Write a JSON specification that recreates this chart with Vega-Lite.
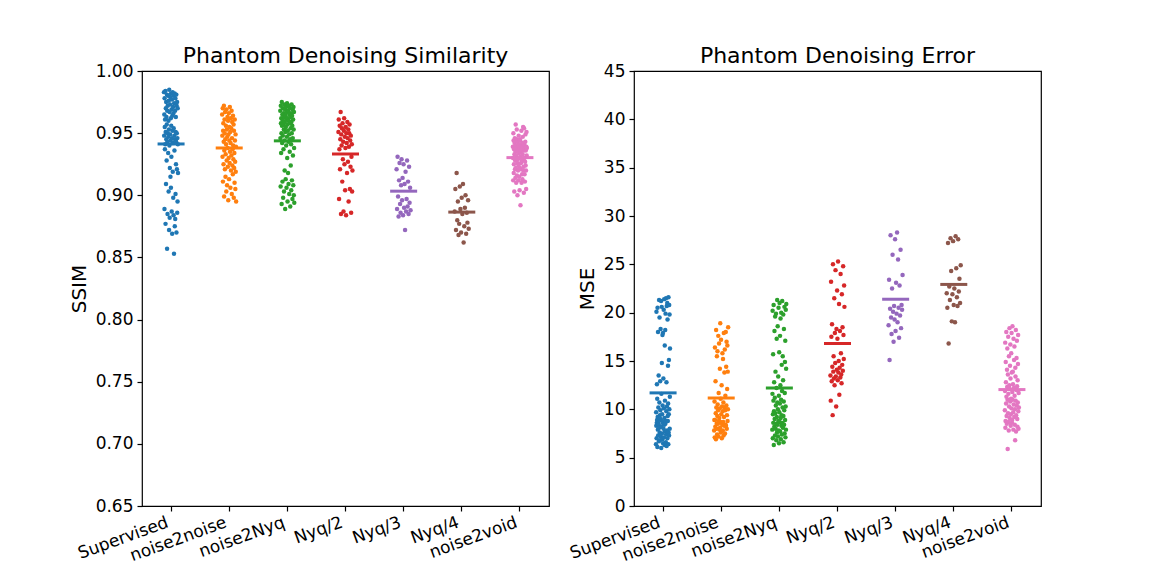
{
"$schema":"https://vega.github.io/schema/vega-lite/v6.json",
"background":"white",
"padding":{"left":68,"top":44,"right":0,"bottom":0},
"config":{"font":"DejaVu Sans","view":{"stroke":"black","strokeWidth":1.2},
"axis":{"grid":false,"domain":false,"tickColor":"black","tickSize":5,"tickWidth":1.2,"labelColor":"black","labelFontSize":17,"titleFontSize":20,"titleFontWeight":"normal","titleColor":"black","labelPadding":4},
"title":{"fontSize":22,"fontWeight":"normal","color":"black"}},
"data":{"values":[
{"m":"Supervised","s":0.983,"e":6.4},{"m":"Supervised","s":0.948,"e":9.7},{"m":"Supervised","s":0.965,"e":8.3},{"m":"Supervised","s":0.889,"e":20.1},{"m":"Supervised","s":0.978,"e":7.0},{"m":"Supervised","s":0.955,"e":8.6},{"m":"Supervised","s":0.937,"e":12.6},{"m":"Supervised","s":0.961,"e":8.9},{"m":"Supervised","s":0.941,"e":11.1},{"m":"Supervised","s":0.984,"e":6.1},
{"m":"Supervised","s":0.877,"e":20.5},{"m":"Supervised","s":0.951,"e":9.2},{"m":"Supervised","s":0.970,"e":7.9},{"m":"Supervised","s":0.909,"e":18.0},{"m":"Supervised","s":0.975,"e":7.3},{"m":"Supervised","s":0.945,"e":10.2},{"m":"Supervised","s":0.963,"e":8.6},{"m":"Supervised","s":0.928,"e":13.5},{"m":"Supervised","s":0.957,"e":8.4},{"m":"Supervised","s":0.981,"e":6.7},
{"m":"Supervised","s":0.857,"e":21.3},{"m":"Supervised","s":0.968,"e":8.1},{"m":"Supervised","s":0.943,"e":10.7},{"m":"Supervised","s":0.885,"e":19.5},{"m":"Supervised","s":0.972,"e":7.6},{"m":"Supervised","s":0.950,"e":9.4},{"m":"Supervised","s":0.980,"e":6.8},{"m":"Supervised","s":0.934,"e":12.9},{"m":"Supervised","s":0.947,"e":9.9},{"m":"Supervised","s":0.960,"e":9.0},
{"m":"Supervised","s":0.903,"e":18.3},{"m":"Supervised","s":0.976,"e":7.2},{"m":"Supervised","s":0.953,"e":8.9},{"m":"Supervised","s":0.872,"e":21.2},{"m":"Supervised","s":0.985,"e":6.0},{"m":"Supervised","s":0.940,"e":11.6},{"m":"Supervised","s":0.967,"e":8.2},{"m":"Supervised","s":0.882,"e":20.6},{"m":"Supervised","s":0.922,"e":14.8},{"m":"Supervised","s":0.973,"e":7.5},
{"m":"Supervised","s":0.949,"e":9.5},{"m":"Supervised","s":0.979,"e":6.9},{"m":"Supervised","s":0.915,"e":17.7},{"m":"Supervised","s":0.944,"e":10.4},{"m":"Supervised","s":0.962,"e":8.7},{"m":"Supervised","s":0.906,"e":17.9},{"m":"Supervised","s":0.982,"e":6.5},{"m":"Supervised","s":0.956,"e":8.5},{"m":"Supervised","s":0.931,"e":13.2},{"m":"Supervised","s":0.969,"e":8.0},
{"m":"Supervised","s":0.887,"e":20.3},{"m":"Supervised","s":0.946,"e":10.1},{"m":"Supervised","s":0.977,"e":7.1},{"m":"Supervised","s":0.869,"e":21.4},{"m":"Supervised","s":0.964,"e":8.4},{"m":"Supervised","s":0.952,"e":9.1},{"m":"Supervised","s":0.983,"e":6.3},{"m":"Supervised","s":0.919,"e":16.6},{"m":"Supervised","s":0.942,"e":10.9},{"m":"Supervised","s":0.971,"e":7.7},
{"m":"Supervised","s":0.898,"e":18.2},{"m":"Supervised","s":0.966,"e":8.5},{"m":"Supervised","s":0.884,"e":19.9},{"m":"Supervised","s":0.954,"e":8.8},{"m":"Supervised","s":0.980,"e":6.6},{"m":"Supervised","s":0.853,"e":21.5},{"m":"Supervised","s":0.974,"e":7.4},{"m":"Supervised","s":0.948,"e":9.8},{"m":"Supervised","s":0.936,"e":12.8},{"m":"Supervised","s":0.982,"e":6.2},
{"m":"Supervised","s":0.875,"e":20.7},{"m":"Supervised","s":0.945,"e":10.3},{"m":"Supervised","s":0.968,"e":7.8},{"m":"Supervised","s":0.881,"e":21.0},{"m":"Supervised","s":0.978,"e":7.0},{"m":"Supervised","s":0.901,"e":19.3},{"m":"Supervised","s":0.951,"e":9.3},{"m":"Supervised","s":0.963,"e":8.8},{"m":"Supervised","s":0.925,"e":14.5},{"m":"Supervised","s":0.943,"e":10.6},
{"m":"Supervised","s":0.981,"e":6.4},{"m":"Supervised","s":0.870,"e":21.6},{"m":"Supervised","s":0.972,"e":7.6},{"m":"Supervised","s":0.950,"e":9.5},{"m":"Supervised","s":0.921,"e":15.1},{"m":"Supervised","s":0.975,"e":7.3},{"m":"Supervised","s":0.886,"e":20.8},{"m":"Supervised","s":0.946,"e":10.0},{"m":"Supervised","s":0.895,"e":19.8},{"m":"Supervised","s":0.970,"e":8.0},
{"m":"Supervised","s":0.941,"e":11.3},{"m":"Supervised","s":0.918,"e":16.3},
{"m":"noise2noise","s":0.965,"e":7.8},{"m":"noise2noise","s":0.948,"e":8.9},{"m":"noise2noise","s":0.931,"e":10.8},{"m":"noise2noise","s":0.970,"e":7.1},{"m":"noise2noise","s":0.911,"e":16.4},{"m":"noise2noise","s":0.952,"e":8.9},{"m":"noise2noise","s":0.958,"e":8.2},{"m":"noise2noise","s":0.925,"e":12.9},{"m":"noise2noise","s":0.943,"e":9.6},{"m":"noise2noise","s":0.972,"e":6.9},
{"m":"noise2noise","s":0.899,"e":18.2},{"m":"noise2noise","s":0.936,"e":10.2},{"m":"noise2noise","s":0.961,"e":8.0},{"m":"noise2noise","s":0.950,"e":8.5},{"m":"noise2noise","s":0.921,"e":15.5},{"m":"noise2noise","s":0.967,"e":7.4},{"m":"noise2noise","s":0.945,"e":9.3},{"m":"noise2noise","s":0.915,"e":16.0},{"m":"noise2noise","s":0.933,"e":10.5},{"m":"noise2noise","s":0.956,"e":8.5},
{"m":"noise2noise","s":0.941,"e":9.9},{"m":"noise2noise","s":0.903,"e":17.6},{"m":"noise2noise","s":0.969,"e":7.2},{"m":"noise2noise","s":0.928,"e":11.7},{"m":"noise2noise","s":0.953,"e":8.8},{"m":"noise2noise","s":0.908,"e":16.8},{"m":"noise2noise","s":0.947,"e":9.1},{"m":"noise2noise","s":0.963,"e":7.9},{"m":"noise2noise","s":0.938,"e":10.1},{"m":"noise2noise","s":0.923,"e":14.2},
{"m":"noise2noise","s":0.960,"e":8.1},{"m":"noise2noise","s":0.896,"e":18.9},{"m":"noise2noise","s":0.949,"e":8.7},{"m":"noise2noise","s":0.930,"e":11.1},{"m":"noise2noise","s":0.966,"e":7.6},{"m":"noise2noise","s":0.913,"e":17.2},{"m":"noise2noise","s":0.944,"e":9.5},{"m":"noise2noise","s":0.955,"e":8.6},{"m":"noise2noise","s":0.926,"e":12.5},{"m":"noise2noise","s":0.971,"e":7.0},
{"m":"noise2noise","s":0.935,"e":10.3},{"m":"noise2noise","s":0.951,"e":8.4},{"m":"noise2noise","s":0.906,"e":15.8},{"m":"noise2noise","s":0.942,"e":9.8},{"m":"noise2noise","s":0.962,"e":7.8},{"m":"noise2noise","s":0.920,"e":15.2},{"m":"noise2noise","s":0.954,"e":8.7},{"m":"noise2noise","s":0.932,"e":10.7},{"m":"noise2noise","s":0.968,"e":7.3},{"m":"noise2noise","s":0.901,"e":17.9},
{"m":"noise2noise","s":0.946,"e":9.2},{"m":"noise2noise","s":0.959,"e":8.3},{"m":"noise2noise","s":0.924,"e":13.8},{"m":"noise2noise","s":0.937,"e":10.2},{"m":"noise2noise","s":0.917,"e":16.2},{"m":"noise2noise","s":0.964,"e":7.5},{"m":"noise2noise","s":0.940,"e":9.9},{"m":"noise2noise","s":0.929,"e":11.4},{"m":"noise2noise","s":0.957,"e":8.4},{"m":"noise2noise","s":0.898,"e":18.0},
{"m":"noise2noise","s":0.952,"e":8.3},{"m":"noise2noise","s":0.922,"e":14.4},{"m":"noise2noise","s":0.934,"e":10.4},{"m":"noise2noise","s":0.910,"e":17.0},{"m":"noise2noise","s":0.961,"e":8.0},{"m":"noise2noise","s":0.944,"e":9.4},{"m":"noise2noise","s":0.927,"e":12.1},{"m":"noise2noise","s":0.905,"e":16.6},{"m":"noise2noise","s":0.949,"e":8.8},{"m":"noise2noise","s":0.919,"e":13.9},
{"m":"noise2noise","s":0.939,"e":10.0},{"m":"noise2noise","s":0.895,"e":18.5},
{"m":"noise2Nyq","s":0.968,"e":7.9},{"m":"noise2Nyq","s":0.946,"e":11.6},{"m":"noise2Nyq","s":0.907,"e":20.2},{"m":"noise2Nyq","s":0.972,"e":7.0},{"m":"noise2Nyq","s":0.958,"e":9.5},{"m":"noise2Nyq","s":0.934,"e":15.7},{"m":"noise2Nyq","s":0.962,"e":8.6},{"m":"noise2Nyq","s":0.950,"e":10.9},{"m":"noise2Nyq","s":0.893,"e":20.8},{"m":"noise2Nyq","s":0.975,"e":6.3},
{"m":"noise2Nyq","s":0.956,"e":9.8},{"m":"noise2Nyq","s":0.942,"e":12.8},{"m":"noise2Nyq","s":0.965,"e":8.2},{"m":"noise2Nyq","s":0.911,"e":18.1},{"m":"noise2Nyq","s":0.960,"e":9.0},{"m":"noise2Nyq","s":0.948,"e":11.2},{"m":"noise2Nyq","s":0.970,"e":7.3},{"m":"noise2Nyq","s":0.898,"e":19.6},{"m":"noise2Nyq","s":0.957,"e":9.6},{"m":"noise2Nyq","s":0.937,"e":13.9},
{"m":"noise2Nyq","s":0.966,"e":8.0},{"m":"noise2Nyq","s":0.953,"e":10.4},{"m":"noise2Nyq","s":0.903,"e":19.9},{"m":"noise2Nyq","s":0.963,"e":8.5},{"m":"noise2Nyq","s":0.973,"e":6.8},{"m":"noise2Nyq","s":0.944,"e":12.2},{"m":"noise2Nyq","s":0.920,"e":17.3},{"m":"noise2Nyq","s":0.959,"e":9.2},{"m":"noise2Nyq","s":0.969,"e":7.6},{"m":"noise2Nyq","s":0.889,"e":21.3},
{"m":"noise2Nyq","s":0.951,"e":10.7},{"m":"noise2Nyq","s":0.964,"e":8.4},{"m":"noise2Nyq","s":0.913,"e":18.6},{"m":"noise2Nyq","s":0.955,"e":10.0},{"m":"noise2Nyq","s":0.971,"e":7.2},{"m":"noise2Nyq","s":0.940,"e":13.4},{"m":"noise2Nyq","s":0.961,"e":8.8},{"m":"noise2Nyq","s":0.906,"e":20.5},{"m":"noise2Nyq","s":0.967,"e":7.8},{"m":"noise2Nyq","s":0.947,"e":11.4},
{"m":"noise2Nyq","s":0.974,"e":6.5},{"m":"noise2Nyq","s":0.930,"e":15.9},{"m":"noise2Nyq","s":0.957,"e":9.7},{"m":"noise2Nyq","s":0.895,"e":21.0},{"m":"noise2Nyq","s":0.962,"e":8.7},{"m":"noise2Nyq","s":0.952,"e":10.6},{"m":"noise2Nyq","s":0.918,"e":17.6},{"m":"noise2Nyq","s":0.968,"e":7.7},{"m":"noise2Nyq","s":0.943,"e":12.5},{"m":"noise2Nyq","s":0.909,"e":19.4},
{"m":"noise2Nyq","s":0.960,"e":9.1},{"m":"noise2Nyq","s":0.972,"e":6.9},{"m":"noise2Nyq","s":0.949,"e":11.0},{"m":"noise2Nyq","s":0.901,"e":20.0},{"m":"noise2Nyq","s":0.965,"e":8.3},{"m":"noise2Nyq","s":0.958,"e":9.4},{"m":"noise2Nyq","s":0.935,"e":14.6},{"m":"noise2Nyq","s":0.970,"e":7.4},{"m":"noise2Nyq","s":0.945,"e":11.9},{"m":"noise2Nyq","s":0.891,"e":21.2},
{"m":"noise2Nyq","s":0.963,"e":8.6},{"m":"noise2Nyq","s":0.954,"e":10.2},{"m":"noise2Nyq","s":0.924,"e":15.5},{"m":"noise2Nyq","s":0.966,"e":8.1},{"m":"noise2Nyq","s":0.941,"e":13.0},{"m":"noise2Nyq","s":0.904,"e":19.8},{"m":"noise2Nyq","s":0.959,"e":9.3},{"m":"noise2Nyq","s":0.973,"e":6.6},{"m":"noise2Nyq","s":0.950,"e":10.8},{"m":"noise2Nyq","s":0.912,"e":18.3},
{"m":"noise2Nyq","s":0.964,"e":8.4},{"m":"noise2Nyq","s":0.956,"e":9.9},{"m":"noise2Nyq","s":0.897,"e":20.6},{"m":"noise2Nyq","s":0.969,"e":7.5},{"m":"noise2Nyq","s":0.946,"e":11.7},{"m":"noise2Nyq","s":0.932,"e":14.9},{"m":"noise2Nyq","s":0.961,"e":8.9},{"m":"noise2Nyq","s":0.908,"e":17.1},{"m":"noise2Nyq","s":0.971,"e":7.1},{"m":"noise2Nyq","s":0.953,"e":10.3},
{"m":"noise2Nyq","s":0.900,"e":20.3},{"m":"noise2Nyq","s":0.967,"e":7.9},{"m":"noise2Nyq","s":0.938,"e":14.2},{"m":"noise2Nyq","s":0.894,"e":20.9},
{"m":"Nyq/2","s":0.951,"e":13.5},{"m":"Nyq/2","s":0.961,"e":10.9},{"m":"Nyq/2","s":0.897,"e":23.2},{"m":"Nyq/2","s":0.937,"e":17.5},{"m":"Nyq/2","s":0.956,"e":12.9},{"m":"Nyq/2","s":0.921,"e":18.8},{"m":"Nyq/2","s":0.945,"e":14.4},{"m":"Nyq/2","s":0.967,"e":9.4},{"m":"Nyq/2","s":0.885,"e":25.0},{"m":"Nyq/2","s":0.949,"e":13.9},
{"m":"Nyq/2","s":0.940,"e":15.5},{"m":"Nyq/2","s":0.954,"e":13.2},{"m":"Nyq/2","s":0.911,"e":21.5},{"m":"Nyq/2","s":0.958,"e":12.5},{"m":"Nyq/2","s":0.929,"e":17.9},{"m":"Nyq/2","s":0.943,"e":14.8},{"m":"Nyq/2","s":0.887,"e":24.4},{"m":"Nyq/2","s":0.952,"e":13.4},{"m":"Nyq/2","s":0.962,"e":10.3},{"m":"Nyq/2","s":0.925,"e":18.3},
{"m":"Nyq/2","s":0.947,"e":14.1},{"m":"Nyq/2","s":0.904,"e":22.3},{"m":"Nyq/2","s":0.938,"e":17.3},{"m":"Nyq/2","s":0.955,"e":13.0},{"m":"Nyq/2","s":0.884,"e":25.3},{"m":"Nyq/2","s":0.950,"e":13.8},{"m":"Nyq/2","s":0.942,"e":15.0},{"m":"Nyq/2","s":0.918,"e":20.9},{"m":"Nyq/2","s":0.959,"e":11.5},{"m":"Nyq/2","s":0.946,"e":14.3},
{"m":"Nyq/2","s":0.927,"e":18.1},{"m":"Nyq/2","s":0.953,"e":13.3},{"m":"Nyq/2","s":0.895,"e":24.0},{"m":"Nyq/2","s":0.939,"e":15.8},{"m":"Nyq/2","s":0.950,"e":13.6},{"m":"Nyq/2","s":0.957,"e":12.7},{"m":"Nyq/2","s":0.905,"e":21.9},{"m":"Nyq/2","s":0.944,"e":14.6},{"m":"Nyq/2","s":0.923,"e":18.5},{"m":"Nyq/2","s":0.948,"e":14.0},
{"m":"Nyq/2","s":0.886,"e":24.8},{"m":"Nyq/2","s":0.931,"e":17.7},{"m":"Nyq/2","s":0.941,"e":15.2},{"m":"Nyq/2","s":0.903,"e":22.8},{"m":"Nyq/2","s":0.920,"e":20.6},
{"m":"Nyq/3","s":0.921,"e":18.7},{"m":"Nyq/3","s":0.889,"e":23.4},{"m":"Nyq/3","s":0.931,"e":15.1},{"m":"Nyq/3","s":0.899,"e":20.4},{"m":"Nyq/3","s":0.883,"e":28.0},{"m":"Nyq/3","s":0.912,"e":19.5},{"m":"Nyq/3","s":0.926,"e":17.8},{"m":"Nyq/3","s":0.893,"e":22.5},{"m":"Nyq/3","s":0.886,"e":26.0},{"m":"Nyq/3","s":0.908,"e":20.1},
{"m":"Nyq/3","s":0.929,"e":17.0},{"m":"Nyq/3","s":0.896,"e":20.7},{"m":"Nyq/3","s":0.914,"e":19.3},{"m":"Nyq/3","s":0.884,"e":27.6},{"m":"Nyq/3","s":0.925,"e":18.1},{"m":"Nyq/3","s":0.890,"e":23.1},{"m":"Nyq/3","s":0.909,"e":19.9},{"m":"Nyq/3","s":0.872,"e":28.3},{"m":"Nyq/3","s":0.919,"e":19.0},{"m":"Nyq/3","s":0.887,"e":25.5},
{"m":"Nyq/3","s":0.897,"e":20.5},{"m":"Nyq/3","s":0.928,"e":17.4},{"m":"Nyq/3","s":0.891,"e":22.8},{"m":"Nyq/3","s":0.911,"e":19.7},{"m":"Nyq/3","s":0.885,"e":26.5},{"m":"Nyq/3","s":0.923,"e":18.4},{"m":"Nyq/3","s":0.894,"e":20.8},{"m":"Nyq/3","s":0.906,"e":20.3},{"m":"Nyq/3","s":0.888,"e":23.9},
{"m":"Nyq/4","s":0.887,"e":22.0},{"m":"Nyq/4","s":0.905,"e":20.5},{"m":"Nyq/4","s":0.872,"e":27.2},{"m":"Nyq/4","s":0.918,"e":16.8},{"m":"Nyq/4","s":0.880,"e":22.7},{"m":"Nyq/4","s":0.895,"e":21.3},{"m":"Nyq/4","s":0.868,"e":27.7},{"m":"Nyq/4","s":0.877,"e":24.3},{"m":"Nyq/4","s":0.907,"e":19.1},{"m":"Nyq/4","s":0.889,"e":21.9},
{"m":"Nyq/4","s":0.870,"e":27.4},{"m":"Nyq/4","s":0.898,"e":20.8},{"m":"Nyq/4","s":0.885,"e":22.5},{"m":"Nyq/4","s":0.909,"e":19.0},{"m":"Nyq/4","s":0.862,"e":27.9},{"m":"Nyq/4","s":0.875,"e":24.6},{"m":"Nyq/4","s":0.890,"e":21.6},{"m":"Nyq/4","s":0.900,"e":20.7},{"m":"Nyq/4","s":0.869,"e":27.6},{"m":"Nyq/4","s":0.886,"e":22.2},
{"m":"Nyq/4","s":0.878,"e":23.5},{"m":"Nyq/4","s":0.896,"e":21.0},{"m":"Nyq/4","s":0.873,"e":24.9},
{"m":"noise2void","s":0.939,"e":9.9},{"m":"noise2void","s":0.930,"e":11.9},{"m":"noise2void","s":0.912,"e":16.9},{"m":"noise2void","s":0.950,"e":8.1},{"m":"noise2void","s":0.944,"e":8.8},{"m":"noise2void","s":0.918,"e":14.9},{"m":"noise2void","s":0.925,"e":12.8},{"m":"noise2void","s":0.937,"e":10.6},{"m":"noise2void","s":0.903,"e":18.0},{"m":"noise2void","s":0.933,"e":11.3},
{"m":"noise2void","s":0.942,"e":9.3},{"m":"noise2void","s":0.946,"e":8.5},{"m":"noise2void","s":0.921,"e":14.1},{"m":"noise2void","s":0.928,"e":12.3},{"m":"noise2void","s":0.914,"e":16.3},{"m":"noise2void","s":0.935,"e":11.0},{"m":"noise2void","s":0.957,"e":5.9},{"m":"noise2void","s":0.922,"e":13.6},{"m":"noise2void","s":0.940,"e":9.6},{"m":"noise2void","s":0.910,"e":17.5},
{"m":"noise2void","s":0.932,"e":11.6},{"m":"noise2void","s":0.945,"e":8.7},{"m":"noise2void","s":0.953,"e":7.8},{"m":"noise2void","s":0.916,"e":15.5},{"m":"noise2void","s":0.938,"e":10.3},{"m":"noise2void","s":0.926,"e":12.5},{"m":"noise2void","s":0.900,"e":18.4},{"m":"noise2void","s":0.943,"e":9.1},{"m":"noise2void","s":0.929,"e":12.1},{"m":"noise2void","s":0.920,"e":14.5},
{"m":"noise2void","s":0.936,"e":10.8},{"m":"noise2void","s":0.912,"e":16.7},{"m":"noise2void","s":0.924,"e":13.2},{"m":"noise2void","s":0.948,"e":8.3},{"m":"noise2void","s":0.941,"e":9.5},{"m":"noise2void","s":0.934,"e":11.1},{"m":"noise2void","s":0.915,"e":15.8},{"m":"noise2void","s":0.938,"e":10.1},{"m":"noise2void","s":0.904,"e":17.9},{"m":"noise2void","s":0.922,"e":13.8},
{"m":"noise2void","s":0.945,"e":8.6},{"m":"noise2void","s":0.944,"e":8.9},{"m":"noise2void","s":0.931,"e":11.8},{"m":"noise2void","s":0.892,"e":18.6},{"m":"noise2void","s":0.935,"e":11.0},{"m":"noise2void","s":0.921,"e":13.9},{"m":"noise2void","s":0.926,"e":12.6},{"m":"noise2void","s":0.940,"e":9.7},{"m":"noise2void","s":0.952,"e":7.9},{"m":"noise2void","s":0.910,"e":17.3},
{"m":"noise2void","s":0.937,"e":10.5},{"m":"noise2void","s":0.928,"e":12.2},{"m":"noise2void","s":0.917,"e":15.1},{"m":"noise2void","s":0.942,"e":9.2},{"m":"noise2void","s":0.913,"e":16.5},{"m":"noise2void","s":0.933,"e":11.4},{"m":"noise2void","s":0.947,"e":8.4},{"m":"noise2void","s":0.939,"e":10.0},{"m":"noise2void","s":0.955,"e":6.8},{"m":"noise2void","s":0.920,"e":14.3},
{"m":"noise2void","s":0.923,"e":13.4},{"m":"noise2void","s":0.936,"e":10.9},{"m":"noise2void","s":0.902,"e":18.2},{"m":"noise2void","s":0.954,"e":7.7},{"m":"noise2void","s":0.941,"e":9.4},{"m":"noise2void","s":0.930,"e":12.0},{"m":"noise2void","s":0.917,"e":15.3},{"m":"noise2void","s":0.937,"e":10.4},{"m":"noise2void","s":0.911,"e":17.1},{"m":"noise2void","s":0.927,"e":12.4},
{"m":"noise2void","s":0.943,"e":9.0},{"m":"noise2void","s":0.949,"e":8.2},{"m":"noise2void","s":0.924,"e":13.0},{"m":"noise2void","s":0.936,"e":10.7},{"m":"noise2void","s":0.920,"e":14.7},{"m":"noise2void","s":0.905,"e":17.7},{"m":"noise2void","s":0.939,"e":9.8},{"m":"noise2void","s":0.951,"e":8.0},{"m":"noise2void","s":0.932,"e":11.7},{"m":"noise2void","s":0.938,"e":10.2}
]},
"spacing":16,
"hconcat":[
{"width":407,"height":435,
"title":{"text":"Phantom Denoising Similarity","offset":-6},
"transform":[{"window":[{"op":"row_number","as":"rn"}]},{"window":[{"op":"percent_rank","as":"jit"}],"sort":[{"field":"rn"}],"groupby":["m"]}],
"encoding":{"x":{"field":"m","type":"nominal","sort":["Supervised","noise2noise","noise2Nyq","Nyq/2","Nyq/3","Nyq/4","noise2void"],"scale":{"paddingInner":0,"paddingOuter":0},"axis":{"title":null,"labelAngle":-20,"labelAlign":"right","labelBaseline":"top","labelPadding":3,"labelOffset":-6}},
"color":{"field":"m","type":"nominal","scale":{"domain":["Supervised","noise2noise","noise2Nyq","Nyq/2","Nyq/3","Nyq/4","noise2void"],"range":["#1f77b4","#ff7f0e","#2ca02c","#d62728","#9467bd","#8c564b","#e377c2"]},"legend":null}},
"layer":[
{"mark":{"type":"circle","size":20,"opacity":1},
"encoding":{"xOffset":{"field":"jit","type":"quantitative","scale":{"domain":[0,1],"range":[22,36]}},
"y":{"field":"s","type":"quantitative","scale":{"domain":[0.65,1.0],"nice":false,"zero":false},"axis":{"title":"SSIM","values":[0.65,0.7,0.75,0.8,0.85,0.9,0.95,1.0],"format":".2f","titlePadding":6}}}},
{"mark":{"type":"tick","size":27,"thickness":3},
"encoding":{"y":{"aggregate":"mean","field":"s","type":"quantitative"}}}
]},
{"width":407,"height":435,
"title":{"text":"Phantom Denoising Error","offset":-6},
"transform":[{"window":[{"op":"row_number","as":"rn"}]},{"window":[{"op":"percent_rank","as":"jit"}],"sort":[{"field":"rn"}],"groupby":["m"]}],
"encoding":{"x":{"field":"m","type":"nominal","sort":["Supervised","noise2noise","noise2Nyq","Nyq/2","Nyq/3","Nyq/4","noise2void"],"scale":{"paddingInner":0,"paddingOuter":0},"axis":{"title":null,"labelAngle":-20,"labelAlign":"right","labelBaseline":"top","labelPadding":3,"labelOffset":-6}},
"color":{"field":"m","type":"nominal","scale":{"domain":["Supervised","noise2noise","noise2Nyq","Nyq/2","Nyq/3","Nyq/4","noise2void"],"range":["#1f77b4","#ff7f0e","#2ca02c","#d62728","#9467bd","#8c564b","#e377c2"]},"legend":null}},
"layer":[
{"mark":{"type":"circle","size":20,"opacity":1},
"encoding":{"xOffset":{"field":"jit","type":"quantitative","scale":{"domain":[0,1],"range":[22,36]}},
"y":{"field":"e","type":"quantitative","scale":{"domain":[0,45],"nice":false},"axis":{"title":"MSE","values":[0,5,10,15,20,25,30,35,40,45],"titlePadding":6}}}},
{"mark":{"type":"tick","size":27,"thickness":3},
"encoding":{"y":{"aggregate":"mean","field":"e","type":"quantitative"}}}
]}
]
}
